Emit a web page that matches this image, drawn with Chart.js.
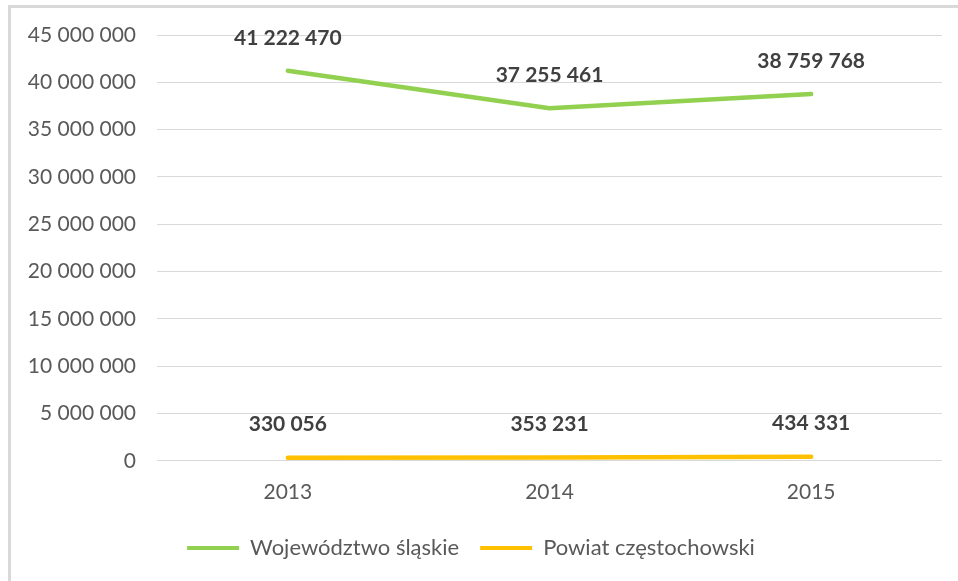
<!DOCTYPE html>
<html>
<head>
<meta charset="utf-8">
<script src="https://cdn.jsdelivr.net/npm/chart.js@4.4.1/dist/chart.umd.min.js"></script>
<style>
    html, body { margin: 0; padding: 0; background: #fff; }
    #wrap { position: relative; width: 958px; height: 581px; overflow: hidden; }
    #frame { position: absolute; left: 8px; top: 5px; width: 1000px; height: 1000px; border: 3px solid #d9d9d9; box-sizing: border-box; }
    #chart { position: absolute; left: 0; top: 0; }
</style>
</head>
<body>
<div id="wrap">
    <div id="frame"></div>
    <canvas id="chart" width="958" height="581"></canvas>
</div>
<script>
const years = ['2013', '2014', '2015'];
const wojewodztwo = [41222470, 37255461, 38759768];
const powiat = [330056, 353231, 434331];
const seriesNames = ['Województwo śląskie', 'Powiat częstochowski'];
const yTicksMax = 45000000;
const yTicksStep = 5000000;

const fontFamily = 'Lato, "Open Sans", sans-serif';

function formatNum(v) {
    return String(v).replace(/\B(?=(\d{3})+(?!\d))/g, ' ');
}

// draws the value above each point (no datalabels plugin offline)
const valueLabels = {
    id: 'valueLabels',
    afterDatasetsDraw(chart) {
        const ctx = chart.ctx;
        ctx.save();
        ctx.font = 'bold 21px ' + fontFamily;
        ctx.fillStyle = '#404040';
        ctx.textAlign = 'center';
        ctx.textBaseline = 'middle';
        chart.data.datasets.forEach((ds, i) => {
            const meta = chart.getDatasetMeta(i);
            meta.data.forEach((pt, j) => {
                ctx.fillText(formatNum(ds.data[j]), pt.x, pt.y - 33);
            });
        });
        ctx.restore();
    }
};

const ctx = document.getElementById('chart').getContext('2d');
new Chart(ctx, {
    type: 'line',
    data: {
        labels: years,
        datasets: [{
            label: seriesNames[0],
            data: wojewodztwo,
            borderColor: '#92d050',
            backgroundColor: '#92d050',
            borderWidth: 4.5,
            borderCapStyle: 'round',
            pointRadius: 0,
            tension: 0
        }, {
            label: seriesNames[1],
            data: powiat,
            borderColor: '#ffc000',
            backgroundColor: '#ffc000',
            borderWidth: 4.5,
            borderCapStyle: 'round',
            pointRadius: 0,
            tension: 0
        }]
    },
    options: {
        responsive: false,
        animation: false,
        layout: {
            padding: { top: 35, right: 16, bottom: 12, left: 0 }
        },
        scales: {
            x: {
                offset: true,
                grid: { display: false },
                border: { display: false },
                ticks: {
                    color: '#595959',
                    font: { family: fontFamily, size: 21 },
                    padding: 11
                }
            },
            y: {
                min: 0,
                max: yTicksMax,
                afterFit(scale) { scale.width = 157; },
                grid: { color: '#d9d9d9', drawTicks: false },
                border: { display: false },
                ticks: {
                    stepSize: yTicksStep,
                    color: '#595959',
                    font: { family: fontFamily, size: 21 },
                    padding: 21,
                    callback: v => formatNum(v)
                }
            }
        },
        plugins: {
            tooltip: { enabled: false },
            legend: {
                position: 'bottom',
                labels: {
                    color: '#595959',
                    font: { family: fontFamily, size: 22 },
                    boxWidth: 52,
                    boxHeight: 4,
                    padding: 21,
                    generateLabels(chart) {
                        return chart.data.datasets.map((ds, i) => ({
                            text: ds.label,
                            fillStyle: ds.borderColor,
                            strokeStyle: ds.borderColor,
                            lineWidth: 0,
                            fontColor: '#595959',
                            datasetIndex: i
                        }));
                    }
                }
            }
        }
    },
    plugins: [valueLabels]
});
</script>
</body>
</html>
